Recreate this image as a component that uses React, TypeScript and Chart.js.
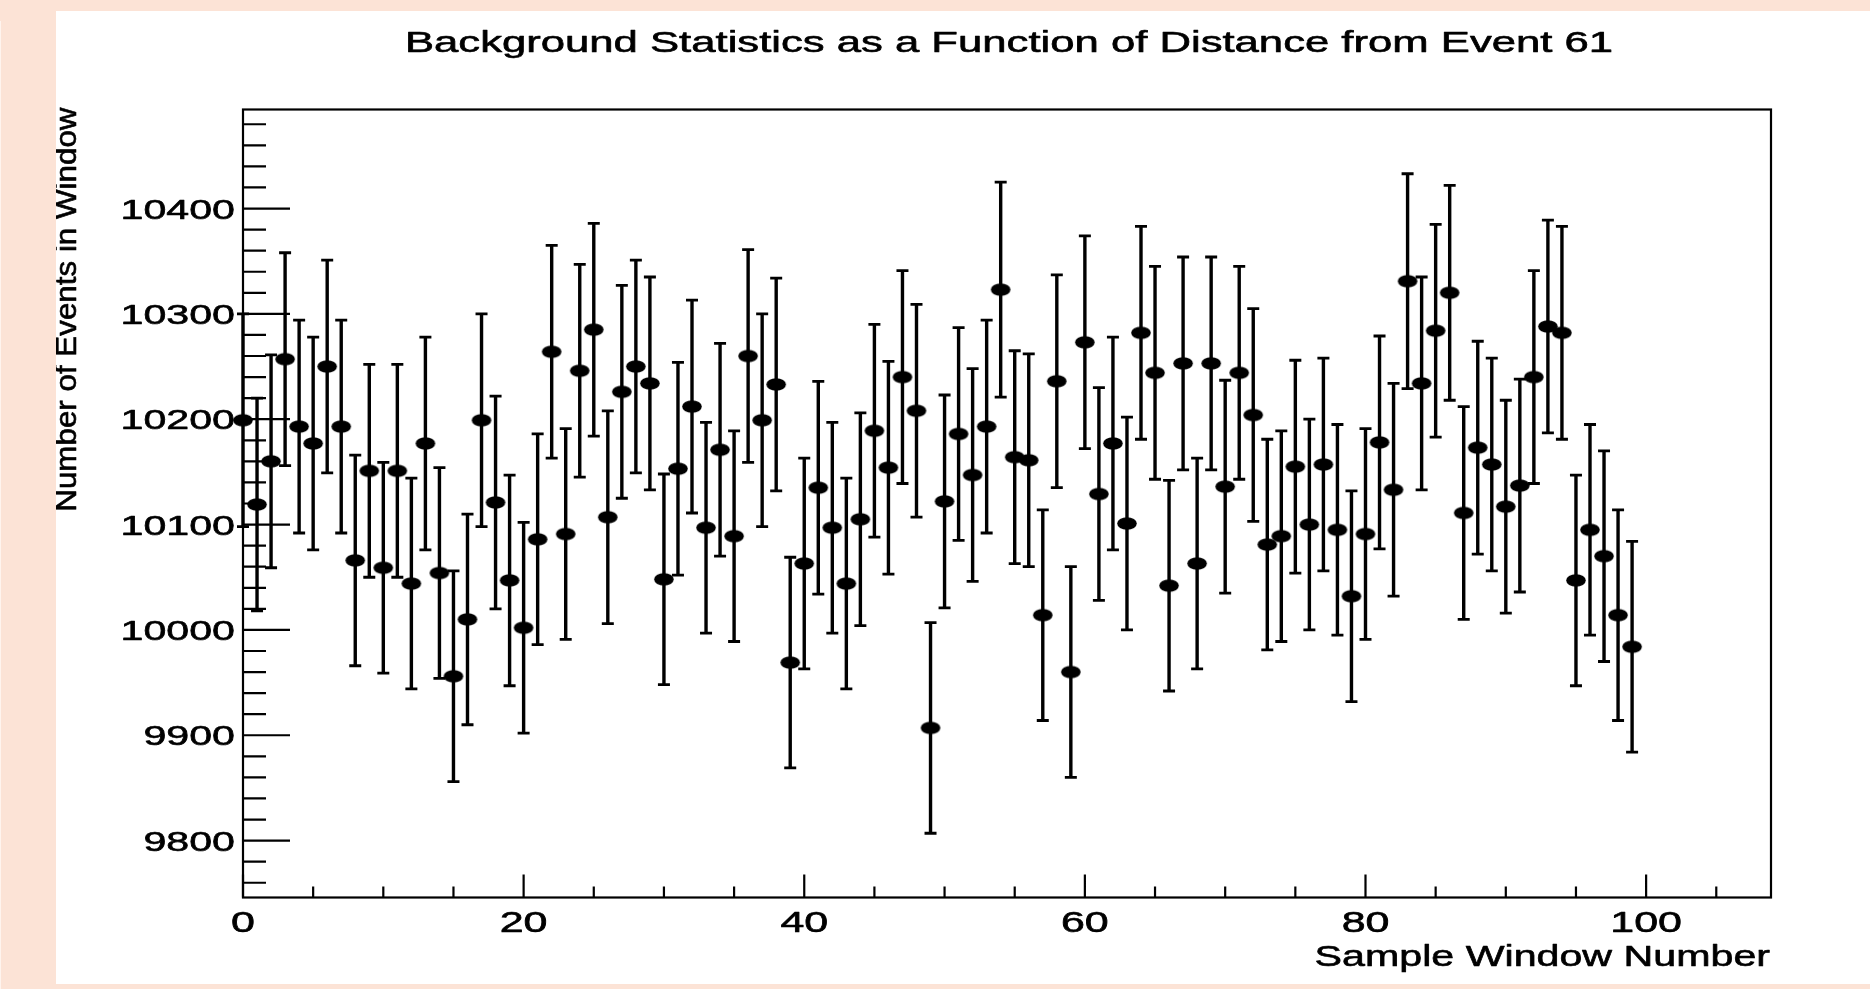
import React, { useEffect, useRef } from "react";
import { Chart, registerables } from "chart.js";

Chart.register(...registerables);

const TITLE = "Background Statistics as a Function of Distance from Event 61";
const X_TITLE = "Sample Window Number";
const Y_TITLE = "Number of Events in Window";

const windowNumbers = [
  0, 1, 2, 3, 4, 5, 6, 7, 8, 9, 10, 11, 12, 13, 14, 15, 16, 17, 18, 19,
  20, 21, 22, 23, 24, 25, 26, 27, 28, 29, 30, 31, 32, 33, 34, 35, 36, 37, 38, 39,
  40, 41, 42, 43, 44, 45, 46, 47, 48, 49, 50, 51, 52, 53, 54, 55, 56, 57, 58, 59,
  60, 61, 62, 63, 64, 65, 66, 67, 68, 69, 70, 71, 72, 73, 74, 75, 76, 77, 78, 79,
  80, 81, 82, 83, 84, 85, 86, 87, 88, 89, 90, 91, 92, 93, 94, 95, 96, 97, 98, 99,
];

const eventCounts = [
  10199, 10119, 10160, 10257, 10193, 10177, 10250, 10193, 10066, 10151,
  10059, 10151, 10044, 10177, 10054, 9956, 10010, 10199, 10121, 10047,
  10002, 10086, 10264, 10091, 10246, 10285, 10107, 10226, 10250, 10234,
  10048, 10153, 10212, 10097, 10171, 10089, 10260, 10199, 10233, 9969,
  10063, 10135, 10097, 10044, 10105, 10189, 10154, 10240, 10208, 9907,
  10122, 10186, 10147, 10193, 10323, 10164, 10161, 10014, 10236, 9960,
  10273, 10129, 10177, 10101, 10282, 10244, 10042, 10253, 10063, 10253,
  10136, 10244, 10204, 10081, 10089, 10155, 10100, 10157, 10095, 10032,
  10091, 10178, 10133, 10331, 10234, 10284, 10320, 10111, 10173, 10157,
  10117, 10137, 10240, 10288, 10282, 10047, 10095, 10070, 10014, 9984,
];

const countErrors = [
  101, 101, 101, 101, 101, 101, 101, 101, 100, 101,
  100, 101, 100, 101, 100, 100, 100, 101, 101, 100,
  100, 100, 101, 100, 101, 101, 101, 101, 101, 101,
  100, 101, 101, 100, 101, 100, 101, 101, 101, 100,
  100, 101, 100, 100, 101, 101, 101, 101, 101, 100,
  101, 101, 101, 101, 102, 101, 101, 100, 101, 100,
  101, 101, 101, 101, 101, 101, 100, 101, 100, 101,
  101, 101, 101, 100, 100, 101, 100, 101, 100, 100,
  100, 101, 101, 102, 101, 101, 102, 101, 101, 101,
  101, 101, 101, 101, 101, 100, 100, 100, 100, 100,
];

const xTickLabels = [0, 20, 40, 60, 80, 100];
const yTickLabels = [9800, 9900, 10000, 10100, 10200, 10300, 10400];

const X_MIN = 0;
const X_MAX = 108.9;
const Y_MIN = 9746;
const Y_MAX = 10494;
const X_MINOR_STEP = 5;
const Y_MINOR_STEP = 20;

const FONT = '"Liberation Sans", Arial, Helvetica, sans-serif';

function drawText(
  ctx: CanvasRenderingContext2D,
  text: string,
  x: number,
  y: number,
  size: number,
  sx: number,
  align: CanvasTextAlign,
  rotate = false
) {
  ctx.save();
  ctx.translate(x, y);
  if (rotate) ctx.rotate(-Math.PI / 2);
  ctx.scale(sx, 1);
  ctx.font = `${size}px ${FONT}`;
  ctx.fillStyle = "#000";
  ctx.strokeStyle = "#000";
  ctx.lineWidth = 0.6;
  ctx.lineJoin = "round";
  ctx.textAlign = align;
  ctx.textBaseline = "alphabetic";
  ctx.fillText(text, 0, 0);
  ctx.strokeText(text, 0, 0);
  ctx.restore();
}

const rootStylePlugin = {
  id: "rootStyle",
  beforeDatasetsDraw(chart: any) {
    const ctx: CanvasRenderingContext2D = chart.ctx;
    const xs = chart.scales.x;
    const ys = chart.scales.y;
    ctx.save();
    ctx.strokeStyle = "#000";
    for (let i = 0; i < eventCounts.length; i++) {
      const x = xs.getPixelForValue(windowNumbers[i]);
      const yTop = ys.getPixelForValue(eventCounts[i] + countErrors[i]);
      const yBot = ys.getPixelForValue(eventCounts[i] - countErrors[i]);
      ctx.lineWidth = 3.4;
      ctx.beginPath();
      ctx.moveTo(x, yTop);
      ctx.lineTo(x, yBot);
      ctx.stroke();
      ctx.lineWidth = 2.8;
      ctx.beginPath();
      ctx.moveTo(x - 6, yTop);
      ctx.lineTo(x + 6, yTop);
      ctx.moveTo(x - 6, yBot);
      ctx.lineTo(x + 6, yBot);
      ctx.stroke();
    }
    ctx.restore();
  },
  afterDraw(chart: any) {
    const ctx: CanvasRenderingContext2D = chart.ctx;
    const xs = chart.scales.x;
    const ys = chart.scales.y;
    const { left, right, top, bottom } = chart.chartArea;
    ctx.save();
    ctx.strokeStyle = "#000";
    ctx.lineWidth = 2.2;
    ctx.strokeRect(left, top, right - left, bottom - top);

    // y ticks (inward)
    ctx.beginPath();
    for (let v = Math.ceil(Y_MIN / Y_MINOR_STEP) * Y_MINOR_STEP; v <= Y_MAX; v += Y_MINOR_STEP) {
      const y = ys.getPixelForValue(v);
      const major = yTickLabels.includes(v);
      ctx.moveTo(left, y);
      ctx.lineTo(left + (major ? 47 : 23), y);
    }
    // x ticks (inward)
    for (let v = Math.ceil(X_MIN / X_MINOR_STEP) * X_MINOR_STEP; v <= X_MAX; v += X_MINOR_STEP) {
      const x = xs.getPixelForValue(v);
      const major = xTickLabels.includes(v);
      ctx.moveTo(x, bottom);
      ctx.lineTo(x, bottom - (major ? 23 : 11));
    }
    ctx.stroke();
    ctx.restore();

    // tick labels
    yTickLabels.forEach((v) => {
      drawText(ctx, String(v), left - 8, ys.getPixelForValue(v) + 10, 28, 1.47, "right");
    });
    xTickLabels.forEach((v) => {
      drawText(ctx, String(v), xs.getPixelForValue(v), bottom + 34, 29, 1.48, "center");
    });

    // titles
    drawText(ctx, TITLE, (left + right) / 2 + 2, 41, 29, 1.505, "center");
    drawText(ctx, X_TITLE, right - 1, bottom + 68, 29, 1.42, "right");
    drawText(ctx, Y_TITLE, 20, top - 2, 30, 1.045, "right", true);
  },
};

export default function App() {
  const canvasRef = useRef<HTMLCanvasElement | null>(null);

  useEffect(() => {
    const canvas = canvasRef.current;
    if (!canvas) return;

    const marker = document.createElement("canvas");
    marker.width = 22;
    marker.height = 15;
    const mctx = marker.getContext("2d")!;
    mctx.fillStyle = "#000";
    mctx.beginPath();
    mctx.ellipse(11, 7.5, 9.8, 6.2, 0, 0, Math.PI * 2);
    mctx.fill();

    const chart = new Chart(canvas, {
      type: "scatter",
      data: {
        datasets: [
          {
            data: windowNumbers.map((x, i) => ({ x, y: eventCounts[i] })),
            showLine: false,
            pointStyle: marker as any,
            pointRadius: 7,
            backgroundColor: "#000",
            borderColor: "#000",
            clip: false as any,
          },
        ],
      },
      options: {
        responsive: false,
        maintainAspectRatio: false,
        animation: false,
        events: [],
        layout: { padding: { left: 187, right: 99, top: 98.5, bottom: 86.5 } },
        plugins: {
          legend: { display: false },
          tooltip: { enabled: false },
          title: { display: false },
        },
        scales: {
          x: { type: "linear", display: false, min: X_MIN, max: X_MAX },
          y: { type: "linear", display: false, min: Y_MIN, max: Y_MAX },
        },
      },
      plugins: [rootStylePlugin],
    });

    return () => chart.destroy();
  }, []);

  return (
    <div
      style={{
        position: "fixed",
        left: 0,
        top: 0,
        width: 1870,
        height: 989,
        background: "#fce3d6",
        overflow: "hidden",
      }}
    >
      <div style={{ position: "absolute", left: 0, top: 21, width: 1, height: 968, background: "#fff4ee" }} />
      <canvas
        ref={canvasRef}
        width={1814}
        height={973}
        style={{ position: "absolute", left: 56, top: 11, width: 1814, height: 973, background: "#fff" }}
      />
    </div>
  );
}
